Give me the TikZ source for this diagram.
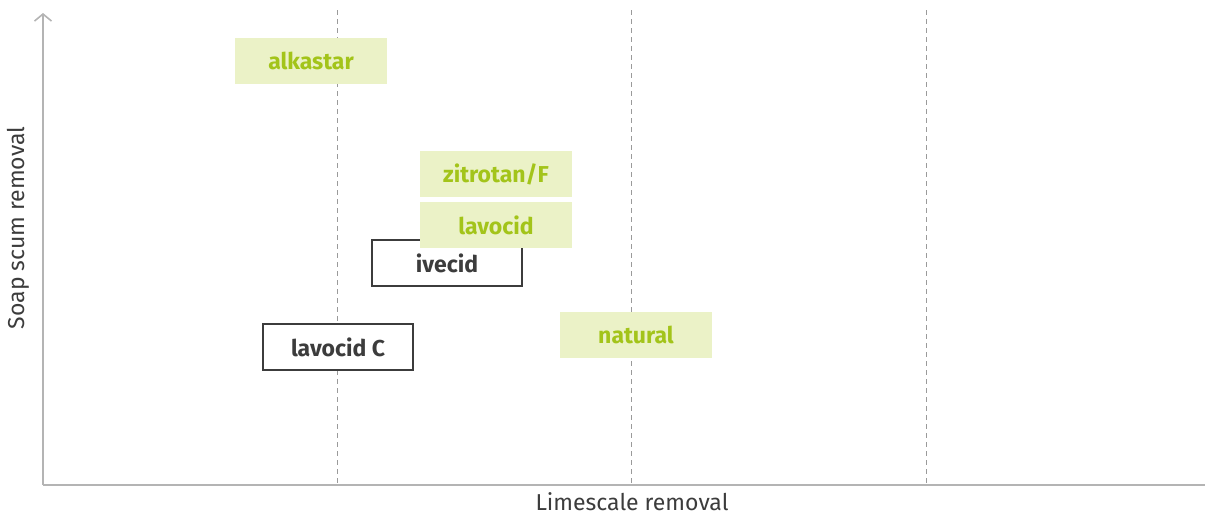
\documentclass[tikz,border=0pt]{standalone}
\usepackage{fontspec}
\setmainfont{Fira Sans}
\usepackage{tikz}
\usetikzlibrary{arrows.meta, positioning}
\definecolor{limefill}{HTML}{EBF2C7}
\definecolor{limetext}{HTML}{A3C41A}
\definecolor{inkgray}{HTML}{3C3C3C}
\definecolor{axisgray}{HTML}{B4B4B4}
\definecolor{gridgray}{HTML}{9A9A9A}
\tikzstyle{product} = [rectangle, fill=limefill, text=limetext, font=\fontsize{23}{27}\selectfont\bfseries, minimum width=152pt, minimum height=46pt, inner sep=0pt]
\tikzstyle{competitor} = [rectangle, draw=inkgray, line width=1.2pt, fill=white, text=inkgray, font=\fontsize{23}{27}\selectfont\bfseries, minimum width=150pt, minimum height=46pt, inner sep=0pt]
\tikzstyle{axis} = [draw=axisgray, line width=1.6pt]
\tikzstyle{grid} = [draw=gridgray, line width=1pt, dash pattern=on 5pt off 4pt]
\tikzstyle{axislabel} = [text=inkgray, font=\fontsize{23}{27}\selectfont, inner sep=0pt]

\begin{document}
\begin{tikzpicture}[x=1pt, y=-1pt]
	\useasboundingbox (0,0) rectangle (1205,515);
	% grid
	\foreach \gx in {337, 631, 926}{
		\draw[grid] (\gx,10) -- (\gx,485);
	}
	% axes
	\coordinate (origin) at (43,485);
	\coordinate (ytop) at (43,13);
	\coordinate (xend) at (1205,485);
	\draw[axis, -{Straight Barb[length=7pt, width=17pt]}] (origin) -- (ytop);
	\draw[axis] (origin) -- (xend);
	\node[axislabel, rotate=90] (ylabel) at (18,228) {Soap scum removal};
	\node[axislabel] (xlabel) at (632,502) {Limescale removal};
	% products
	\node[product] (alkastar) at (311,61) {alkastar};
	\node[product] (zitrotan) at (496,174) {zitrotan/F};
	\node[competitor] (ivecid) at (447,263) {ivecid};
	\node[product] (lavocid) at (496,225) {lavocid};
	\node[competitor] (lavocidc) at (338,347) {lavocid C};
	\node[product] (natural) at (636,335) {natural};
\end{tikzpicture}
\end{document}
